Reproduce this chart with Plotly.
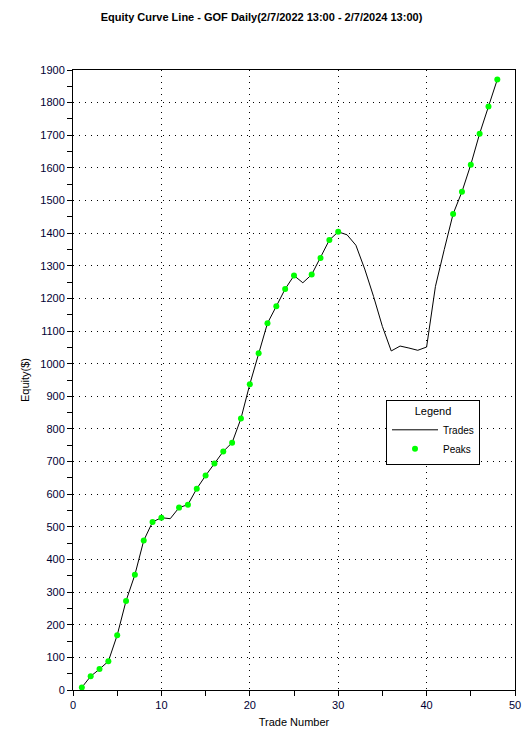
import plotly.graph_objects as go

# equity after each trade
trades = list(range(1, 49))
equity = [8, 42, 64, 88, 168, 273, 353, 458, 515, 528,
          525, 559, 568, 617, 657, 694, 731, 758, 832, 937,
          1032, 1124, 1176, 1229, 1270, 1248, 1273, 1324, 1379, 1404,
          1395, 1363, 1290, 1206, 1114, 1039, 1054, 1048, 1041, 1051,
          1237, 1350, 1459, 1527, 1610, 1705, 1788, 1871]

title_text = "Equity Curve Line - GOF Daily(2/7/2022 13:00 - 2/7/2024 13:00)"

# peaks = trades that set a new equity high
peak_x = []
peak_y = []
best = None
for t, e in zip(trades, equity):
    if best is None or e > best:
        best = e
        peak_x.append(t)
        peak_y.append(e)

font = "Liberation Sans, Arial, sans-serif"
W, H = 523, 753

fig = go.Figure()
fig.add_trace(go.Scatter(
    x=trades, y=equity, mode="lines", name="Trades",
    line=dict(color="black", width=1),
))
fig.add_trace(go.Scatter(
    x=peak_x, y=peak_y, mode="markers", name="Peaks",
    marker=dict(color="#00ff00", size=6, line=dict(width=0)),
))

axis_common = dict(
    showline=True, linecolor="black", linewidth=1, mirror=True,
    showgrid=True, gridcolor="black", gridwidth=1, griddash="1px,5px",
    zeroline=False, ticks="outside", ticklen=5, tickcolor="black",
    tickfont=dict(family=font, size=11, color="#000033"),
    automargin=False,
)

fig.update_layout(
    width=W, height=H,
    margin=dict(l=73, r=8, t=70, b=63),
    paper_bgcolor="white", plot_bgcolor="white",
    font=dict(family=font, size=11, color="black"),
    title=dict(text="<b>" + title_text + "</b>", x=0.5, xanchor="center",
               y=1 - 17 / H, yanchor="middle",
               font=dict(family=font, size=11, color="black")),
    xaxis=dict(range=[0, 50], dtick=10, tick0=0,
               minor=dict(dtick=5, ticks="outside", ticklen=5, tickcolor="black", showgrid=False),
               title=dict(text="Trade Number", standoff=8,
                          font=dict(family=font, size=11)),
               **axis_common),
    yaxis=dict(range=[0, 1900], dtick=100, tick0=0,
               minor=dict(dtick=50, ticks="outside", ticklen=5, tickcolor="black", showgrid=False),
               title=dict(text="Equity($)", standoff=8,
                          font=dict(family=font, size=11)),
               **axis_common),
    legend=dict(
        x=(386 - 73) / 442, y=(690 - 400) / 620, xanchor="left", yanchor="top",
        bordercolor="black", borderwidth=1, bgcolor="white",
        title=dict(text="Legend", side="top center", font=dict(family=font, size=11)),
        font=dict(family=font, size=10, color="black"),
        itemwidth=46, tracegroupgap=0,
    ),
)

# drop the default 8px page margin so the figure fills the window exactly
fig.write_html("out.html", config={"displayModeBar": False},
               post_script="document.body.style.margin='0';document.body.style.overflow='hidden';")
